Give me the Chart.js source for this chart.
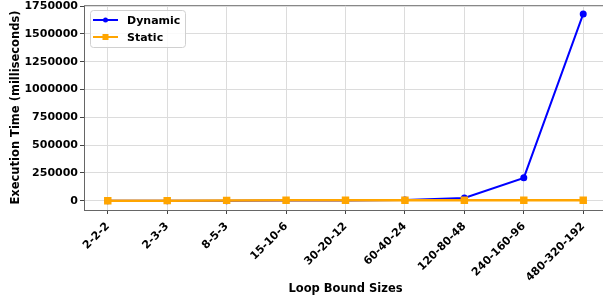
<!DOCTYPE html>
<html>
<head>
<meta charset="utf-8">
<script src="https://cdn.jsdelivr.net/npm/chart.js@4"></script>
<style>
  html, body { margin: 0; padding: 0; background: #fff; overflow: hidden; }
  /* the reference plot runs a few pixels past the right edge of the picture */
  #wrap { width: 607px; height: 298px; }
</style>
</head>
<body>
<div id="wrap"><canvas id="chart"></canvas></div>
<script>
const LABELS = ["2-2-2", "2-3-3", "8-5-3", "15-10-6", "30-20-12", "60-40-24", "120-80-48", "240-160-96", "480-320-192"];
const DYNAMIC = [10, 40, 300, 1200, 2500, 5000, 25000, 205000, 1680000];
const STATIC = [60, 120, 2500, 3500, 3000, 3200, 3500, 3800, 4000];
const Y_TICKS = [0, 250000, 500000, 750000, 1000000, 1250000, 1500000, 1750000];

const FONT = "'DejaVu Sans', sans-serif";

// matplotlib style: legend in the upper left and a box round the plot area
const insideLegend = {
  id: "insideLegend",
  afterDatasetsDraw(chart) {
    const { ctx, chartArea } = chart;
    ctx.save();
    ctx.strokeStyle = "#888";
    ctx.lineWidth = 1;
    ctx.beginPath();
    ctx.moveTo(chartArea.left, chartArea.top + 0.5);
    ctx.lineTo(chartArea.right - 0.5, chartArea.top + 0.5);
    ctx.lineTo(chartArea.right - 0.5, chartArea.bottom);
    ctx.stroke();

    const x = chartArea.left + 6, y = chartArea.top + 5;
    ctx.fillStyle = "rgba(255,255,255,0.85)";
    ctx.strokeStyle = "#d0d0d0";
    ctx.beginPath();
    ctx.roundRect(x + 0.5, y + 0.5, 95, 37, 3);
    ctx.fill();
    ctx.stroke();

    ctx.font = "bold 11px " + FONT;
    ctx.textBaseline = "middle";
    chart.data.datasets.forEach((ds, i) => {
      const cy = y + 10 + i * 17;
      ctx.strokeStyle = ds.borderColor;
      ctx.lineWidth = 2;
      ctx.beginPath();
      ctx.moveTo(x + 3, cy);
      ctx.lineTo(x + 28, cy);
      ctx.stroke();
      ctx.fillStyle = ds.borderColor;
      if (ds.pointStyle === "rect") {
        ctx.fillRect(x + 12.5, cy - 3, 6, 6);
      } else {
        ctx.beginPath();
        ctx.arc(x + 15.5, cy, 2.5, 0, Math.PI * 2);
        ctx.fill();
      }
      ctx.fillStyle = "#000";
      ctx.fillText(ds.label, x + 37, cy + 1);
    });
    ctx.restore();
  }
};

new Chart(document.getElementById("chart"), {
  type: "line",
  data: {
    datasets: [
      {
        label: "Dynamic",
        data: DYNAMIC.map((v, i) => ({ x: i, y: v })),
        borderColor: "#0000ff",
        backgroundColor: "#0000ff",
        borderWidth: 2,
        pointStyle: "circle",
        pointRadius: 2.5,
        order: 1
      },
      {
        label: "Static",
        data: STATIC.map((v, i) => ({ x: i, y: v })),
        borderColor: "#ffa500",
        backgroundColor: "#ffa500",
        borderWidth: 2.5,
        pointStyle: "rect",
        pointRadius: 3.5,
        order: 0
      }
    ]
  },
  options: {
    responsive: true,
    maintainAspectRatio: false,
    animation: false,
    layout: { autoPadding: false, padding: { top: 5, right: 0, left: 0, bottom: 0 } },
    plugins: { legend: { display: false }, tooltip: { enabled: false } },
    scales: {
      x: {
        type: "linear",
        min: -0.4,
        max: 8.4,
        afterBuildTicks: (s) => { s.ticks = LABELS.map((_, i) => ({ value: i })); },
        afterFit: (s) => { s.height = 88; s.paddingLeft = 0; s.paddingRight = 0; },
        ticks: {
          callback: (v) => LABELS[v],
          minRotation: 45,
          maxRotation: 45,
          padding: 6,
          color: "#000",
          font: { family: FONT, size: 11, weight: "bold" }
        },
        grid: { color: "#dcdcdc", tickColor: "#444", tickLength: 4 },
        border: { color: "#666", width: 1 },
        title: {
          display: true,
          text: "Loop Bound Sizes",
          color: "#000",
          font: { family: FONT, size: 11.5, weight: "bold" },
          padding: { top: 0, bottom: 2 }
        }
      },
      y: {
        min: -84000,
        max: 1760000,
        afterBuildTicks: (s) => { s.ticks = Y_TICKS.map((v) => ({ value: v })); },
        afterFit: (s) => { s.width = 84; s.paddingTop = 0; s.paddingBottom = 0; },
        ticks: {
          callback: (v) => String(v),
          padding: 2,
          color: "#000",
          font: { family: FONT, size: 11, weight: "bold" }
        },
        grid: { color: "#dcdcdc", tickColor: "#444", tickLength: 4 },
        border: { color: "#666", width: 1 },
        title: {
          display: true,
          text: "Execution Time (milliseconds)",
          color: "#000",
          font: { family: FONT, size: 11.5, weight: "bold" },
          padding: { top: 9, bottom: 0 }
        }
      }
    }
  },
  plugins: [insideLegend]
});
</script>
</body>
</html>
